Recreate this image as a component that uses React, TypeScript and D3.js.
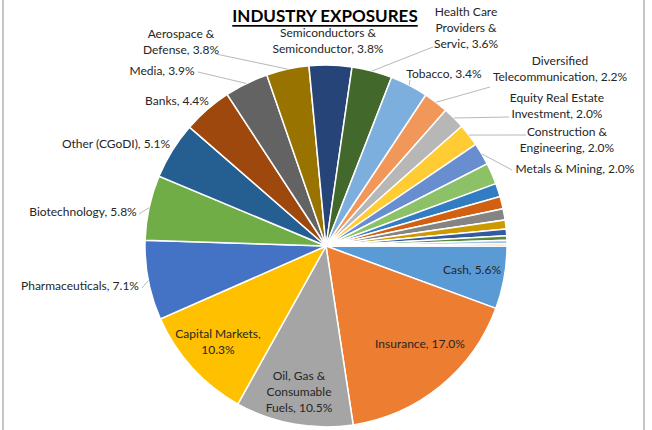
import * as d3 from 'd3'

const W = 652
const H = 430
const R = 181
const CX = 326
const CY = 246

// sectors in drawing order, clockwise from 3 o'clock; "\n" marks a line break
const sectors = [
  'Cash', 'Insurance', 'Oil, Gas &\nConsumable\nFuels', 'Capital Markets', 'Pharmaceuticals',
  'Biotechnology', 'Other (CGoDI)', 'Banks', 'Media', 'Aerospace &\nDefense',
  'Semiconductors &\nSemiconductor', 'Health Care\nProviders &\nServic', 'Tobacco',
  'Diversified\nTelecommunication', 'Equity Real Estate\nInvestment', 'Construction &\nEngineering',
  'Metals & Mining', 's18', 's19', 's20', 's21', 's22', 's23', 's24', 's25', 's26',
]
const weights = [
  5.6, 17.0, 10.5, 10.3, 7.1, 5.8, 5.1, 4.4, 3.9, 3.8, 3.8, 3.6, 3.4, 2.2, 2.0, 2.0, 2.0,
  1.9, 1.2, 1.1, 1.0, 0.8, 0.6, 0.4, 0.3, 0.2,
]
const sliceColors = [
  '#5B9BD5', '#ED7D31', '#A5A5A5', '#FFC000', '#4472C4', '#70AD47',
  '#255E91', '#9E480E', '#636363', '#997300', '#264478', '#43682B',
  '#7CAFDD', '#F1975A', '#B7B7B7', '#FFCD33', '#698ED0', '#8CC168',
  '#327DC2', '#D26012', '#848484', '#CC9A00', '#335AA1', '#5A8A39',
  '#9DC3E6', '#F4B183',
]

// where Excel's "best fit" put each label (text centre) and where its leader line ends
const labelLayout: Record<string, { x: number; y: number; lead?: [number, number]; wrapValue?: boolean }> = {
  'Cash': { x: 472, y: 269 },
  'Insurance': { x: 420, y: 343 },
  'Oil, Gas &\nConsumable\nFuels': { x: 299, y: 391 },
  'Capital Markets': { x: 218, y: 341, wrapValue: true },
  'Pharmaceuticals': { x: 80, y: 285, lead: [142, 288] },
  'Biotechnology': { x: 83, y: 211, lead: [139, 214] },
  'Other (CGoDI)': { x: 116, y: 143 },
  'Banks': { x: 177, y: 100 },
  'Media': { x: 162, y: 70, lead: [198, 72] },
  'Aerospace &\nDefense': { x: 181, y: 41.5, lead: [216, 54] },
  'Semiconductors &\nSemiconductor': { x: 328, y: 40.5 },
  'Health Care\nProviders &\nServic': { x: 466, y: 27.5, lead: [433, 47] },
  'Tobacco': { x: 444, y: 73, lead: [410, 80] },
  'Diversified\nTelecommunication': { x: 560, y: 68, lead: [490, 87] },
  'Equity Real Estate\nInvestment': { x: 557, y: 105, lead: [509, 117] },
  'Construction &\nEngineering': { x: 567, y: 139.5, lead: [526, 135] },
  'Metals & Mining': { x: 575, y: 168, lead: [512, 170] },
}

const FONT = 'Lato, "Open Sans", sans-serif'

export default function App() {
  const data = sectors.map((name, i) => ({ name, value: weights[i], color: sliceColors[i] }))

  const pie = d3
    .pie<{ name: string; value: number; color: string }>()
    .sort(null)
    .value((d) => d.value)
    .startAngle(Math.PI / 2)
    .endAngle(Math.PI / 2 + Math.PI * 2)

  const arcs = pie(data)
  const arc = d3.arc<d3.PieArcDatum<any>>().innerRadius(0).outerRadius(R)

  const edgePoint = (a: d3.PieArcDatum<any>) => {
    const m = (a.startAngle + a.endAngle) / 2
    return [CX + R * Math.sin(m), CY - R * Math.cos(m)]
  }

  return (
    <div style={{ position: 'absolute', left: 0, top: 0 }}>
      <svg width={W} height={H} style={{ display: 'block', background: '#fff' }}>
        <line x1={3} y1={0} x2={3} y2={H} stroke="#8c8c8c" strokeWidth={1} />
        <line x1={644} y1={0} x2={644} y2={H} stroke="#8c8c8c" strokeWidth={1} />

        <text
          x={325}
          y={15.5}
          textAnchor="middle"
          dominantBaseline="central"
          fontFamily={FONT}
          fontWeight="bold"
          fontSize={17}
          fill="#000"
          style={{ textDecoration: 'underline' }}
        >
          INDUSTRY EXPOSURES
        </text>

        <g transform={`translate(${CX},${CY})`}>
          {arcs.map((a) => (
            <path key={a.data.name} d={arc(a) || ''} fill={a.data.color} stroke="#fff" strokeWidth={1.5} />
          ))}
        </g>

        {arcs.map((a) => {
          const lay = labelLayout[a.data.name]
          if (!lay || !lay.lead) return null
          const [x1, y1] = edgePoint(a)
          return (
            <line
              key={`lead-${a.data.name}`}
              x1={x1}
              y1={y1}
              x2={lay.lead[0]}
              y2={lay.lead[1]}
              stroke="#a6a6a6"
              strokeWidth={0.8}
            />
          )
        })}

        {arcs.map((a) => {
          const lay = labelLayout[a.data.name]
          if (!lay) return null
          const pct = `${a.data.value.toFixed(1)}%`
          const text = lay.wrapValue ? `${a.data.name},\n${pct}` : `${a.data.name}, ${pct}`
          const lines = text.split('\n')
          const lh = 16
          const y0 = lay.y - ((lines.length - 1) * lh) / 2
          return (
            <text
              key={`lbl-${a.data.name}`}
              textAnchor="middle"
              fontFamily={FONT}
              fontSize={12}
              fill="#262626"
            >
              {lines.map((ln, j) => (
                <tspan key={j} x={lay.x} y={y0 + j * lh} dominantBaseline="central">
                  {ln}
                </tspan>
              ))}
            </text>
          )
        })}
      </svg>
    </div>
  )
}
